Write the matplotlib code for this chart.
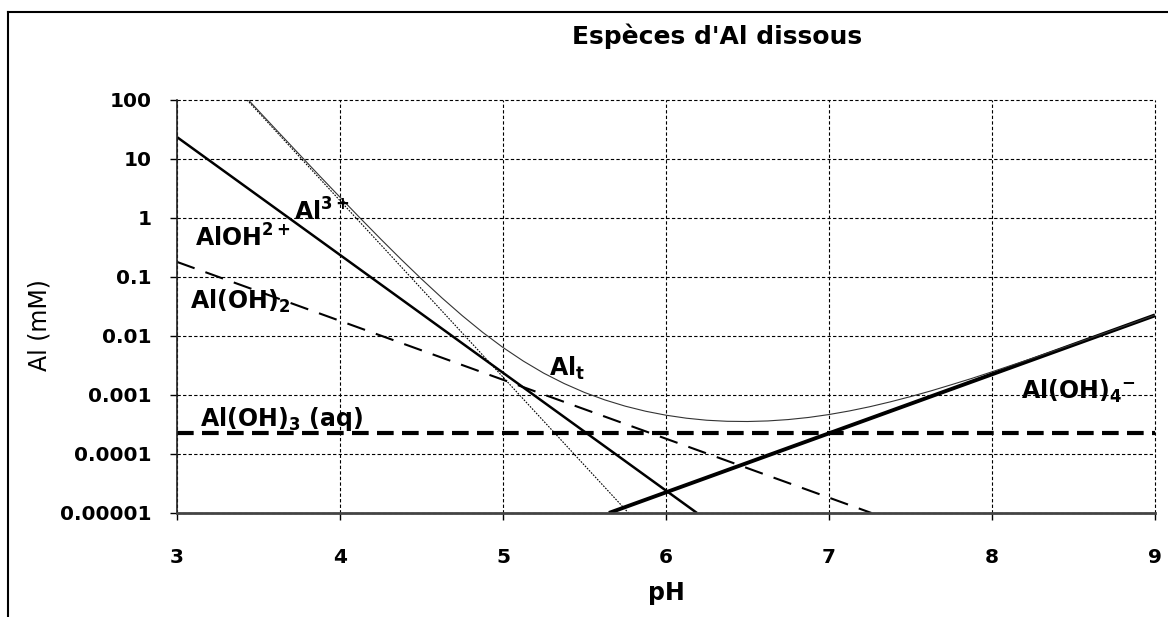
import numpy as np
import matplotlib
matplotlib.use("Agg")
import matplotlib.pyplot as plt
from matplotlib.lines import Line2D
from matplotlib.ticker import FixedLocator, NullLocator, FixedFormatter

# ------------------------------------------------------------------
# Espèces d'Al dissous en fonction du pH (mM)
# ------------------------------------------------------------------
ph_al3 = [3.43, 5.77]
al3 = [100.0, 1e-5]

ph_aloh = [3.0, 6.19]
aloh = [23.5, 1e-5]

ph_aloh2 = [3.0, 7.26]
aloh2 = [0.18, 1e-5]

ph_aloh3 = [3.0, 9.0]
aloh3 = [2.24e-4, 2.24e-4]

ph_aloh4 = [5.65, 9.0]
aloh4 = [1e-5, 0.0224]

# Al total
ph_alt = [3.40, 3.50, 3.625, 3.75, 3.875, 4.00, 4.125, 4.25, 4.375, 4.50,
          4.625, 4.75, 4.875, 5.00, 5.125, 5.25, 5.375, 5.50, 5.625, 5.75,
          5.875, 6.00, 6.125, 6.25, 6.375, 6.50, 6.625, 6.75, 6.875, 7.00,
          7.125, 7.25, 7.375, 7.50, 7.625, 7.75, 7.875, 8.00, 8.25, 8.50,
          8.75, 9.00]
alt = [130.0, 65.5, 27.96, 12.0, 5.17, 2.25, 0.987, 0.439, 0.199, 0.0925,
       0.0443, 0.0221, 0.01155, 0.00638, 0.00375, 0.00234, 0.001563, 0.001103, 8.24e-4, 6.46e-4,
       5.30e-4, 4.54e-4, 4.04e-4, 3.73e-4, 3.58e-4, 3.55e-4, 3.63e-4, 3.83e-4, 4.16e-4, 4.66e-4,
       5.36e-4, 6.32e-4, 7.63e-4, 9.38e-4, 1.172e-3, 1.49e-3, 1.905e-3, 2.47e-3, 4.21e-3, 7.3e-3,
       0.0128, 0.0226]

ph_ticks = [3, 4, 5, 6, 7, 8, 9]
al_ticks = [1e-5, 1e-4, 1e-3, 1e-2, 1e-1, 1, 10, 100]
al_labels = ["0.00001", "0.0001", "0.001", "0.01", "0.1", "1", "10", "100"]

plt.rcParams["font.family"] = ["DejaVu Sans"]
plt.rcParams["mathtext.default"] = "bf"

fig = plt.figure(figsize=(11.68, 6.17), dpi=100)
ax = fig.add_axes([0.1515, 0.1686, 0.8374, 0.6694])

ax.set_yscale("log")
ax.set_xlim(3, 9)
ax.set_ylim(1e-5, 100)

# grille pointillée
ax.xaxis.set_major_locator(FixedLocator(ph_ticks))
ax.yaxis.set_major_locator(FixedLocator(al_ticks))
ax.yaxis.set_major_formatter(FixedFormatter(al_labels))
ax.yaxis.set_minor_locator(NullLocator())
ax.grid(True, which="major", color="black", linewidth=0.8, linestyle=(0, (3, 2)))
ax.set_axisbelow(True)
for gl in ax.get_xgridlines() + ax.get_ygridlines():
    gl.set_clip_on(False)

# courbes
ax.plot(ph_al3, al3, color="black", linewidth=0.8, linestyle=(0, (1.5, 1.2)))
ax.plot(ph_aloh, aloh, color="black", linewidth=1.8, solid_capstyle="butt")
ax.plot(ph_aloh2, aloh2, color="black", linewidth=1.5, linestyle=(0, (9, 5.5)))
ax.plot(ph_aloh3, aloh3, color="black", linewidth=3.0, linestyle=(0, (4, 2)))
ax.plot(ph_aloh4, aloh4, color="black", linewidth=2.8, solid_capstyle="butt")
ax.plot(ph_alt, alt, color="#333333", linewidth=0.8)

# étiquettes des espèces
lab = dict(fontsize=17, fontweight="bold", ha="left", va="baseline")
ax.text(3.72, 0.9, r"Al$^{3+}$", **lab)
ax.text(3.11, 0.326, r"AlOH$^{2+}$", **lab)
ax.text(3.08, 0.029, r"Al(OH)$_2$", **lab)
ax.text(3.14, 2.95e-4, r"Al(OH)$_3$ (aq)", **lab)
ax.text(5.285, 2.14e-3, r"Al$_t$", **lab)
ax.text(8.18, 8.7e-4, r"Al(OH)$_4$$^{-}$", **lab)

# axes
for side in ("top", "right"):
    ax.spines[side].set_visible(False)
ax.spines["left"].set_linewidth(1.2)
ax.spines["left"].set_color("#222222")
ax.spines["bottom"].set_linewidth(2.0)
ax.spines["bottom"].set_color("#444444")
ax.tick_params(axis="both", which="major", direction="out", length=5, width=1,
               labelsize=14.5)
ax.tick_params(axis="x", pad=20)
ax.tick_params(axis="y", pad=13)
for t in ax.get_xticklabels() + ax.get_yticklabels():
    t.set_fontweight("bold")

ax.set_xlabel("pH", fontsize=17, fontweight="bold", labelpad=10)
ax.set_ylabel("Al (mM)", fontsize=17)
ax.yaxis.set_label_coords(-0.128, 0.455)

fig.text(0.614, 0.942, "Espèces d'Al dissous", fontsize=18, fontweight="bold",
         ha="center", va="center")

# cadre du graphique
x0, y0 = 8 / 1168, 1 - 12 / 617
fig.add_artist(Line2D([x0, x0], [0, y0], color="black", linewidth=1.5))
fig.add_artist(Line2D([x0, 1], [y0, y0], color="black", linewidth=1.5))

fig.savefig("out.png", dpi=100)
